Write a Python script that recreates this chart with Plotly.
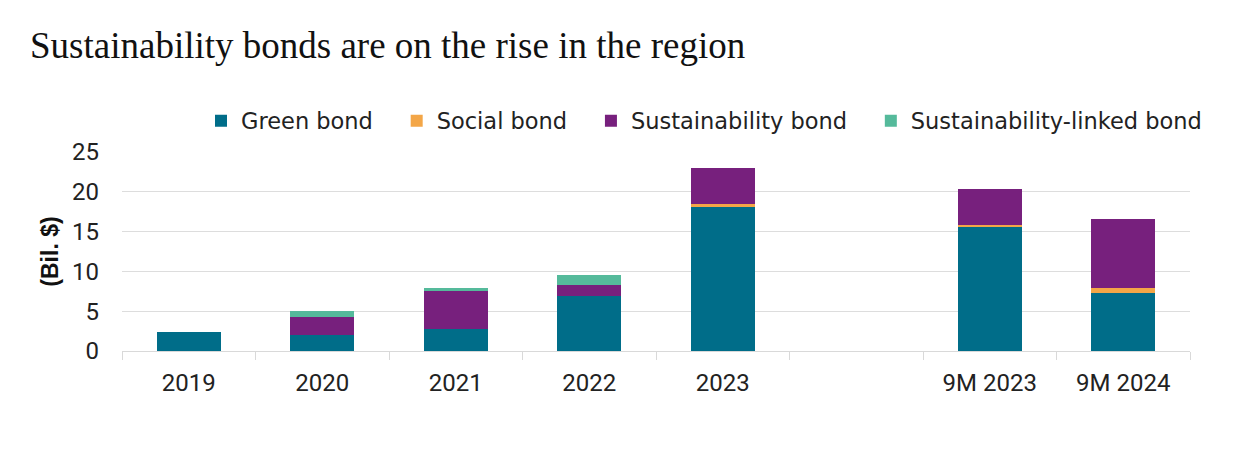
import plotly.graph_objects as go

categories = ["2019", "2020", "2021", "2022", "2023", " ", "9M 2023", "9M 2024"]
green_bond = [2.4, 2.0, 2.75, 6.85, 18.15, None, 15.55, 7.25]
social_bond = [0, 0, 0, 0, 0.33, None, 0.33, 0.62]
sustainability_bond = [0, 2.3, 4.8, 1.45, 4.5, None, 4.5, 8.75]
sustainability_linked_bond = [0, 0.7, 0.4, 1.3, 0, None, 0, 0]

series = [
    ("Green bond", green_bond, "#006D89"),
    ("Social bond", social_bond, "#F3A647"),
    ("Sustainability bond", sustainability_bond, "#77207D"),
    ("Sustainability-linked bond", sustainability_linked_bond, "#55BA9B"),
]

pad = "\u00a0\u00a0\u2009"
fig = go.Figure()
for i, (name, vals, color) in enumerate(series):
    label = name + (pad if i < len(series) - 1 else "")
    fig.add_trace(go.Bar(
        x=categories, y=vals, name=label,
        marker=dict(color=color, line=dict(width=0)),
    ))

tick_font = "Roboto, Inter, Liberation Sans, sans-serif"
legend_font = "DejaVu Sans, Liberation Sans, sans-serif"
fig.update_layout(
    width=1248, height=450,
    barmode="stack", bargap=0.52,
    plot_bgcolor="white", paper_bgcolor="white",
    margin=dict(l=114, r=66, t=144, b=107),
    title=dict(
        text="Sustainability bonds are on the rise in the region",
        font=dict(family="Liberation Serif, DejaVu Serif, serif", size=37, color="#111111"),
        x=22 / 1248, xanchor="left", y=1 - 37 / 450, yanchor="middle",
    ),
    legend=dict(
        orientation="h", x=79 / 1068, xanchor="left",
        y=(351 - 121) / 199, yanchor="middle",
        font=dict(family=legend_font, size=22.5, color="#222222"),
        traceorder="normal", itemwidth=30,
    ),
    font=dict(family=tick_font, size=20, color="#222222"),
)
fig.update_xaxes(
    type="category", categoryorder="array", categoryarray=categories,
    showline=True, linecolor="#d9d9d9", linewidth=1,
    ticks="outside", tickson="boundaries", ticklen=8, tickcolor="#d9d9d9",
    ticklabelstandoff=10,
    tickfont=dict(family=tick_font, size=24, color="#222222"),
    showgrid=False,
)
fig.update_yaxes(
    range=[0, 25], dtick=5, showgrid=True, gridcolor="#dddddd", gridwidth=1,
    zeroline=False, showline=False, ticks="",
    ticklabelstandoff=22,
    tickfont=dict(family=tick_font, size=24, color="#222222"),
    title=dict(text="<b>(Bil. $)</b>", font=dict(family="Liberation Sans, Arial, sans-serif", size=23, color="#111111"), standoff=6),
)

fig.write_html("out.html")
